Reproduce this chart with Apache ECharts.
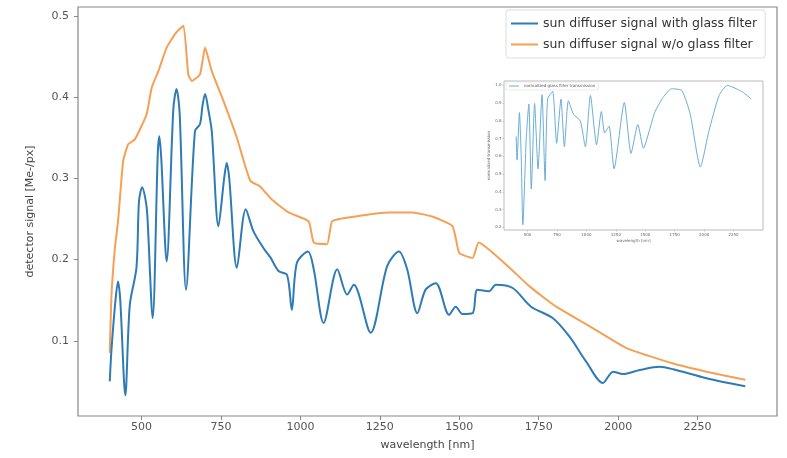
<!DOCTYPE html>
<html>
<head>
<meta charset="utf-8">
<script src="https://cdn.jsdelivr.net/npm/echarts@6/dist/echarts.min.js"></script>
<style>html,body{margin:0;padding:0;background:#fff;}#c{width:787px;height:458px;}</style>
</head>
<body>
<div id="c"></div>
<script>
var blueWl = [400,405,418,426,433,449,463,484,492,502,512,518,535,551,556,562,579,600,610,620,640,668,684,692,700,710,721,742,760,768,776,800,828,852,884,905,931,958,973,989,1024,1042,1073,1116,1147,1168,1221,1273,1310,1336,1368,1394,1426,1468,1489,1510,1542,1557,1594,1615,1668,1726,1794,1847,1900,1952,1984,2015,2068,2131,2173,2278,2400];
var blueVal = [0.050,0.087,0.150,0.173,0.150,0.033,0.144,0.190,0.272,0.289,0.275,0.256,0.128,0.330,0.352,0.325,0.198,0.385,0.410,0.380,0.163,0.358,0.367,0.390,0.404,0.385,0.358,0.241,0.300,0.319,0.300,0.190,0.262,0.235,0.214,0.203,0.186,0.181,0.138,0.196,0.210,0.188,0.122,0.188,0.157,0.169,0.110,0.192,0.210,0.188,0.134,0.163,0.171,0.132,0.142,0.133,0.134,0.163,0.161,0.169,0.165,0.142,0.128,0.105,0.074,0.048,0.062,0.059,0.064,0.068,0.065,0.054,0.044];
var orangeWl = [400,405,416,426,442,458,479,516,532,553,579,610,632,647,658,684,700,721,758,800,842,873,910,963,1026,1042,1084,1100,1173,1279,1352,1415,1479,1500,1542,1561,1647,1721,1805,1910,2026,2173,2278,2400];
var orangeVal = [0.085,0.153,0.214,0.247,0.321,0.342,0.348,0.379,0.412,0.432,0.461,0.480,0.488,0.428,0.420,0.428,0.461,0.432,0.395,0.350,0.297,0.290,0.274,0.258,0.247,0.221,0.219,0.247,0.253,0.258,0.258,0.253,0.241,0.208,0.202,0.221,0.194,0.167,0.142,0.118,0.091,0.072,0.062,0.052];
var insetWl = [403,411,431,446,460,489,511,532,560,589,623,649,670,713,747,784,813,847,891,948,991,1034,1086,1127,1155,1192,1235,1322,1379,1437,1485,1537,1580,1652,1724,1810,1882,1968,2040,2127,2198,2328,2400];
var insetVal = [0.713,0.579,0.847,0.607,0.214,0.703,0.895,0.416,0.898,0.530,0.948,0.464,0.923,0.967,0.674,0.923,0.655,0.914,0.837,0.800,0.655,0.943,0.665,0.853,0.732,0.770,0.530,0.904,0.617,0.780,0.646,0.751,0.847,0.933,0.981,0.971,0.837,0.540,0.741,0.943,1.000,0.962,0.923];
var xTicks = [500,750,1000,1250,1500,1750,2000,2250];
var yTicks = [0.1,0.2,0.3,0.4,0.5];
var insetYTicks = [0.2,0.3,0.4,0.5,0.6,0.7,0.8,0.9,1.0];

function pairs(xs, ys){ return xs.map(function(x,i){ return [x, ys[i]]; }); }
function plain(v){ return String(v); }
function oneDec(v){ return v.toFixed(1); }

var chart = echarts.init(document.getElementById('c'), null, {renderer:'canvas'});
var axisCol = '#888';
var txtCol = '#555';
var font = 'DejaVu Sans';
chart.setOption({
  animation: false,
  backgroundColor: '#fff',
  textStyle: {fontFamily: font},
  grid: [
    {left: 78, top: 7, right: 10, bottom: 42, show: true, borderColor: axisCol, borderWidth: 1.2, backgroundColor: '#fff'},
    {left: 504, top: 81, width: 259, height: 149, show: true, borderColor: '#bbb', borderWidth: 1, backgroundColor: '#fff', z: 5}
  ],
  legend: [
    {
      data: ['sun diffuser signal with glass filter', 'sun diffuser signal w/o glass filter'],
      left: 506, top: 10, orient: 'vertical', icon: 'rect', itemWidth: 27, itemHeight: 2, itemGap: 8,
      padding: [7, 8, 7, 5], backgroundColor: '#fff', borderColor: '#ddd', borderWidth: 1, borderRadius: 3,
      textStyle: {fontSize: 12.5, color: '#333', fontFamily: font}
    },
    {
      data: ['normalized glass filter transmission'],
      left: 506, top: 82, orient: 'vertical', icon: 'rect', itemWidth: 10, itemHeight: 1, itemGap: 2,
      padding: [2, 3, 2, 3], backgroundColor: '#fff', borderColor: '#ddd', borderWidth: 0.6, borderRadius: 1,
      textStyle: {fontSize: 4, color: '#555', fontFamily: font}, z: 10
    }
  ],
  xAxis: [
    {
      type: 'value', gridIndex: 0, min: 300, max: 2500,
      name: 'wavelength [nm]', nameLocation: 'middle', nameGap: 24,
      nameTextStyle: {fontSize: 11, color: '#444', fontFamily: font},
      axisLine: {show: false},
      axisTick: {show: true, customValues: xTicks, length: 4, lineStyle: {color: axisCol}},
      axisLabel: {show: true, customValues: xTicks, fontSize: 11, color: txtCol, margin: 6, fontFamily: font, formatter: plain},
      splitLine: {show: false}
    },
    {
      type: 'value', gridIndex: 1, min: 300, max: 2500,
      name: 'wavelength [nm]', nameLocation: 'middle', nameGap: 9,
      nameTextStyle: {fontSize: 4, color: '#666', fontFamily: font},
      axisLine: {show: false},
      axisTick: {show: true, customValues: xTicks, length: 1.5, lineStyle: {color: '#aaa', width: 0.6}},
      axisLabel: {show: true, customValues: xTicks, fontSize: 4, color: '#666', margin: 2.5, fontFamily: font, formatter: plain},
      splitLine: {show: false}
    }
  ],
  yAxis: [
    {
      type: 'value', gridIndex: 0, min: 0.0074, max: 0.511,
      name: 'detector signal [Me-/px]', nameLocation: 'middle', nameGap: 42, nameRotate: 90,
      nameTextStyle: {fontSize: 11, color: '#444', fontFamily: font},
      axisLine: {show: false},
      axisTick: {show: true, customValues: yTicks, length: 4, lineStyle: {color: axisCol}},
      axisLabel: {show: true, customValues: yTicks, fontSize: 11, color: txtCol, margin: 9, fontFamily: font, formatter: oneDec},
      splitLine: {show: false}
    },
    {
      type: 'value', gridIndex: 1, min: 0.185, max: 1.025,
      name: 'normalized transmission', nameLocation: 'middle', nameGap: 11, nameRotate: 90,
      nameTextStyle: {fontSize: 4, color: '#666', fontFamily: font},
      axisLine: {show: false},
      axisTick: {show: true, customValues: insetYTicks, length: 1.5, lineStyle: {color: '#aaa', width: 0.6}},
      axisLabel: {show: true, customValues: insetYTicks, fontSize: 4, color: '#666', margin: 2.5, fontFamily: font, formatter: oneDec},
      splitLine: {show: false}
    }
  ],
  series: [
    {
      name: 'sun diffuser signal with glass filter', type: 'line', xAxisIndex: 0, yAxisIndex: 0,
      data: pairs(blueWl, blueVal), showSymbol: false, symbol: 'none', smooth: 0.3,
      lineStyle: {color: '#2f7bb5', width: 2}, itemStyle: {color: '#2f7bb5'}, z: 3
    },
    {
      name: 'sun diffuser signal w/o glass filter', type: 'line', xAxisIndex: 0, yAxisIndex: 0,
      data: pairs(orangeWl, orangeVal), showSymbol: false, symbol: 'none', smooth: 0.15,
      lineStyle: {color: '#f5a055', width: 2}, itemStyle: {color: '#f5a055'}, z: 2
    },
    {
      name: 'normalized glass filter transmission', type: 'line', xAxisIndex: 1, yAxisIndex: 1,
      data: pairs(insetWl, insetVal), showSymbol: false, symbol: 'none', smooth: 0.2,
      lineStyle: {color: '#6aaed6', width: 1}, itemStyle: {color: '#6aaed6'}, z: 6
    }
  ]
});
</script>
</body>
</html>
